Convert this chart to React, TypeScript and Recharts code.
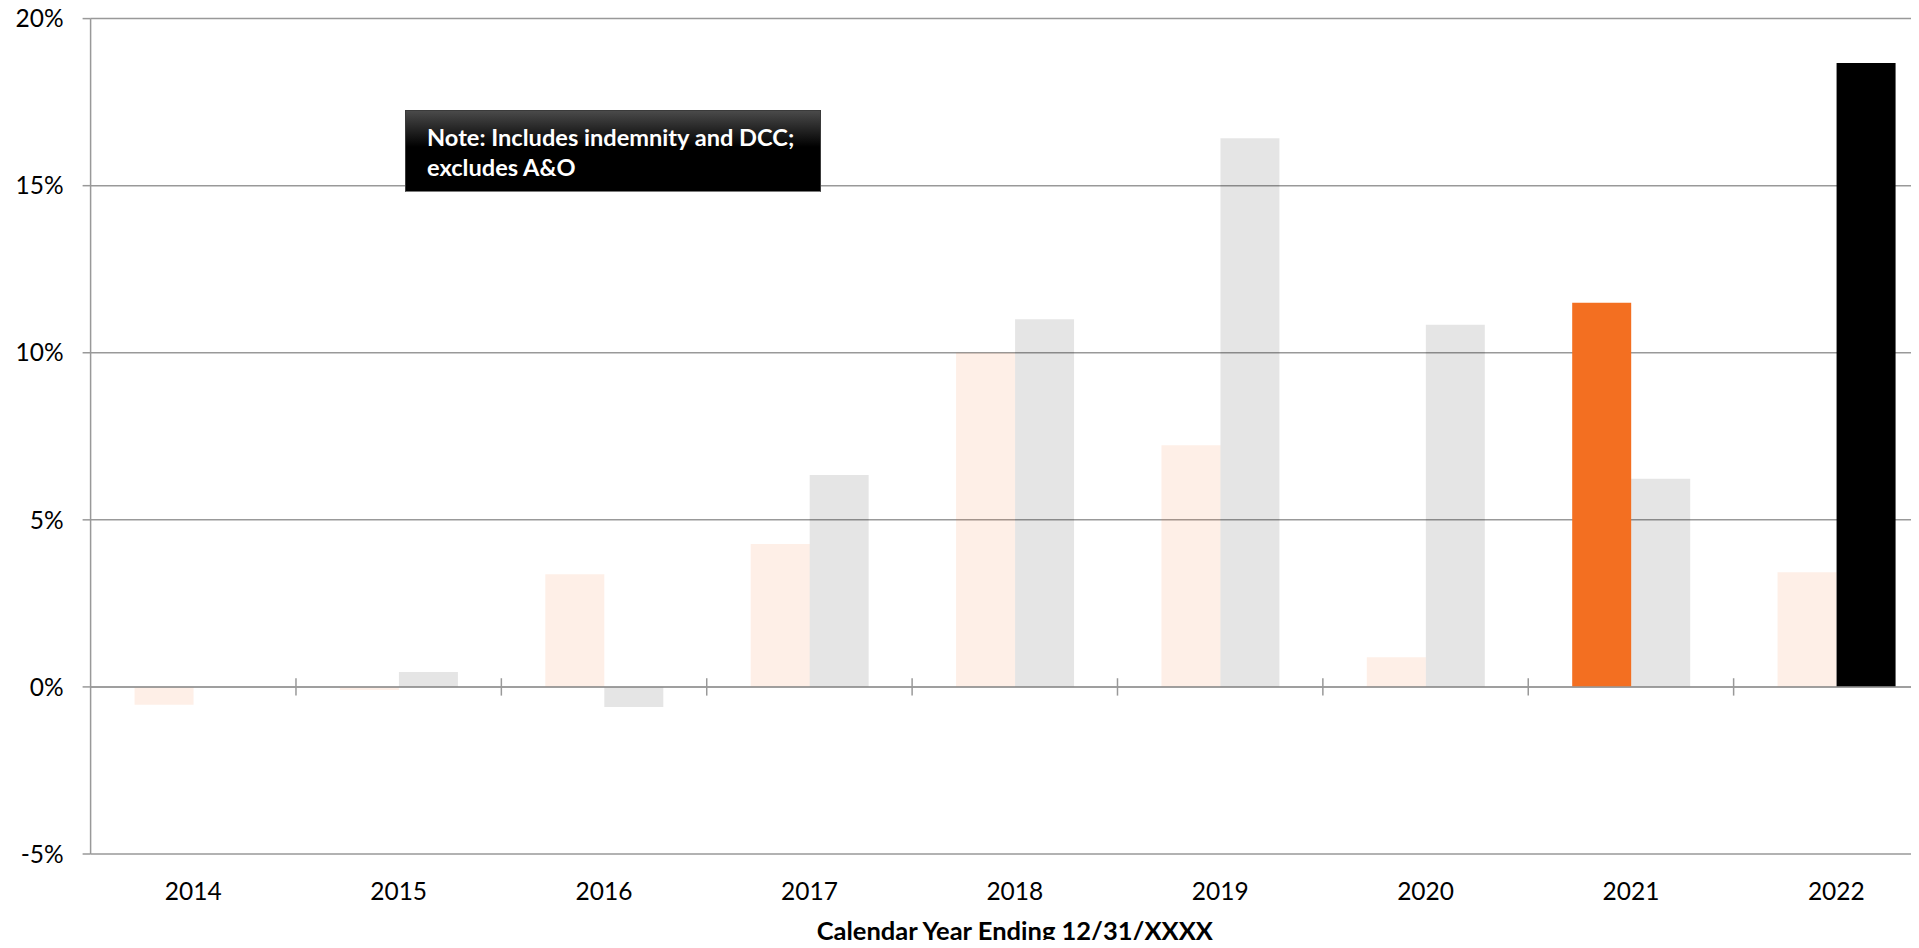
import React from 'react';
import { BarChart, Bar, Cell, XAxis, YAxis, CartesianGrid, ReferenceLine } from 'recharts';

// Annual change (%) by calendar year, two measures per year
const YEARS = ['2014', '2015', '2016', '2017', '2018', '2019', '2020', '2021', '2022'];
const FIRST_MEASURE = [-0.53, -0.09, 3.37, 4.28, 10.0, 7.23, 0.89, 11.5, 3.43];
const SECOND_MEASURE = [null, 0.45, -0.6, 6.34, 11.0, 16.42, 10.84, 6.23, 18.67];
const Y_TICKS = [-5, 0, 5, 10, 15, 20];

// the one bar of each measure shown at full strength
const FIRST_HIGHLIGHT = '2021';
const SECOND_HIGHLIGHT = '2022';

const ORANGE = '#F36F21';
const BLACK = '#000000';
const AXIS_GREY = '#999999';
const FONT = 'Lato, "Open Sans", sans-serif';

// half length of the category separators drawn across the zero line
const SEPARATOR_HALF = 0.26;

const data = YEARS.map((year, i) => ({
  year,
  first: FIRST_MEASURE[i],
  second: SECOND_MEASURE[i],
}));

const NoteBox: React.FC = () => (
  <div
    style={{
      position: 'absolute',
      left: 405,
      top: 110,
      width: 416,
      height: 82,
      boxSizing: 'border-box',
      border: '1px solid #3a3a3a',
      borderBottomColor: '#7a7a7a',
      background: 'linear-gradient(to bottom, #4a4a4a 0%, #000000 45%, #000000 100%)',
      color: '#ffffff',
      fontFamily: FONT,
      fontWeight: 700,
      fontSize: 23.6,
      lineHeight: '30px',
      padding: '11px 0 0 21px',
    }}
  >
    Note: Includes indemnity and DCC;
    <br />
    excludes A&amp;O
  </div>
);

const App: React.FC = () => {
  return (
    <div
      style={{
        margin: -8,
        width: 1919,
        height: 948,
        overflow: 'hidden',
        position: 'relative',
        background: '#fff',
      }}
    >
      <BarChart
        width={1960}
        height={948}
        data={data}
        margin={{ top: 18.6, right: 21, bottom: 0, left: 0 }}
        barCategoryGap="21.4%"
        barGap={0}
        style={{ fontFamily: FONT }}
      >
        <CartesianGrid horizontal vertical={false} stroke={AXIS_GREY} strokeWidth={1.5} />
        <XAxis
          dataKey="year"
          height={94}
          axisLine={false}
          tickLine={false}
          tickSize={0}
          tickMargin={29}
          interval={0}
          tick={{ fill: '#000', fontSize: 24.5, fontFamily: FONT }}
          label={{
            value: 'Calendar Year Ending 12/31/XXXX',
            position: 'insideBottom',
            offset: 8,
            style: { fill: '#000', fontSize: 25.5, fontWeight: 700, fontFamily: FONT },
          }}
        />
        <YAxis
          width={90.6}
          domain={[-5, 20]}
          ticks={Y_TICKS}
          interval={0}
          tickFormatter={(v: number) => `${v}%`}
          axisLine={{ stroke: AXIS_GREY, strokeWidth: 1.5 }}
          tickLine={{ stroke: AXIS_GREY, strokeWidth: 1.5 }}
          tickSize={8}
          tickMargin={19}
          tick={{ fill: '#000', fontSize: 24.5, fontFamily: FONT }}
        />
        <Bar dataKey="first" isAnimationActive={false}>
          {data.map((d) => (
            <Cell
              key={d.year}
              fill={ORANGE}
              fillOpacity={d.year === FIRST_HIGHLIGHT ? 1 : 0.11}
            />
          ))}
        </Bar>
        <Bar dataKey="second" isAnimationActive={false}>
          {data.map((d) => (
            <Cell
              key={d.year}
              fill={BLACK}
              fillOpacity={d.year === SECOND_HIGHLIGHT ? 1 : 0.1}
            />
          ))}
        </Bar>
        <ReferenceLine y={0} stroke={AXIS_GREY} strokeWidth={1.5} />
        {YEARS.slice(1).map((year) => (
          <ReferenceLine
            key={year}
            position="start"
            segment={[
              { x: year, y: -SEPARATOR_HALF },
              { x: year, y: SEPARATOR_HALF },
            ]}
            stroke={AXIS_GREY}
            strokeWidth={1.5}
          />
        ))}
      </BarChart>
      <NoteBox />
    </div>
  );
};

export default App;
